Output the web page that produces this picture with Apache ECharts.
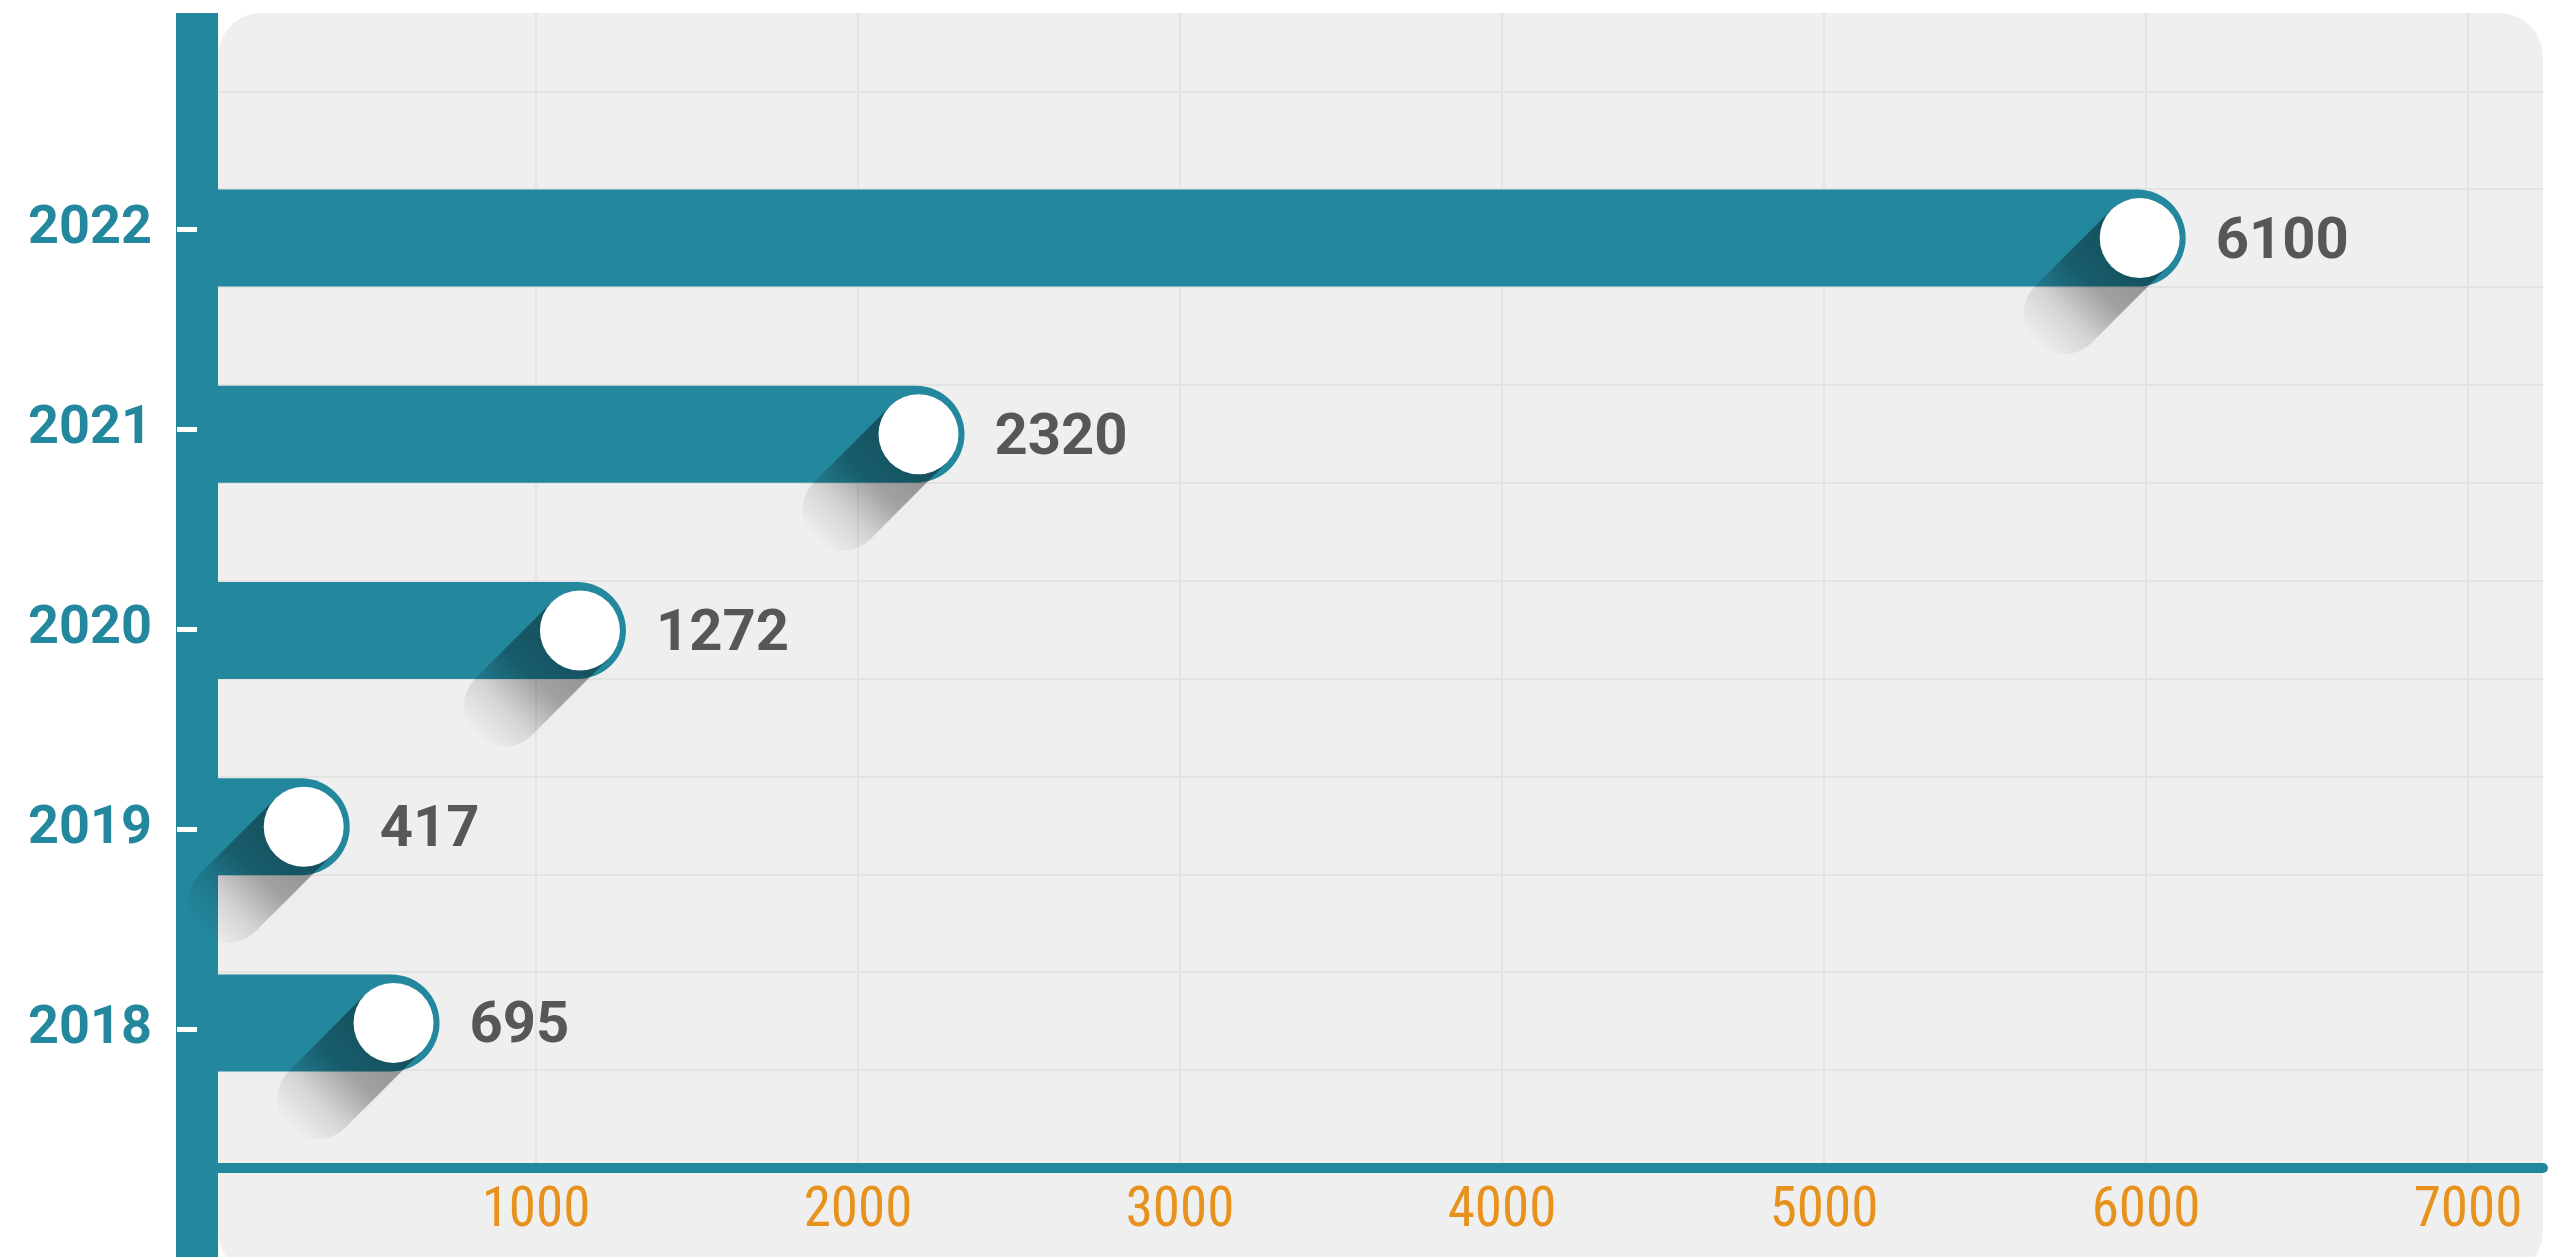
<!DOCTYPE html>
<html>
<head>
<meta charset="utf-8">
<script src="https://cdn.jsdelivr.net/npm/echarts@6/dist/echarts.min.js"></script>
<style>
html,body{margin:0;padding:0;background:#fff;}
#c{width:2567px;height:1257px;}
</style>
</head>
<body>
<div id="c"></div>
<script>
// ---- data ----
const categories = ['2018', '2019', '2020', '2021', '2022'];
const values = [695, 417, 1272, 2320, 6100];
const xMin = 0;
const xMax = 7233;      // gridline / label axis extent
const barXMax = 7206;   // bar axis extent
const xInterval = 1000;

// ---- styles ----
const TEAL = '#23889e';
const ORANGE = '#e8921e';
const GRID_LINE = '#e3e3e3';

function clipLeft(pts, xm) {
  const out = [];
  for (let i = 0; i < pts.length; i++) {
    const a = pts[i], b = pts[(i + 1) % pts.length];
    const ain = a[0] >= xm, bin = b[0] >= xm;
    if (ain) out.push(a);
    if (ain !== bin) {
      const t = (xm - a[0]) / (b[0] - a[0]);
      out.push([xm, a[1] + t * (b[1] - a[1])]);
    }
  }
  return out;
}

function renderShadow(params, api) {
  const v = api.value(0), c = api.value(1);
  const p = api.coord([v, c]);
  const R = 40, OFF = 46, L = 108;
  const cx = p[0] - OFF, cy = p[1];
  const s = Math.SQRT1_2;
  const dx = -s, dy = s;
  const ex = cx + L * dx, ey = cy + L * dy;
  let poly = [[cx + s * R, cy + s * R]];
  for (let a = 45; a <= 225; a += 10) {
    const r = a * Math.PI / 180;
    poly.push([ex + R * Math.cos(r), ey + R * Math.sin(r)]);
  }
  poly.push([cx - s * R, cy - s * R]);
  poly = clipLeft(poly, params.coordSys.x - 39);
  const T = L + R;
  const grad = {
    type: 'linear', global: true,
    x: cx, y: cy, x2: cx + T * dx, y2: cy + T * dy,
    colorStops: [
      { offset: 0, color: 'rgba(0,0,0,0.42)' },
      { offset: 0.45, color: 'rgba(0,0,0,0.31)' },
      { offset: 0.72, color: 'rgba(0,0,0,0.11)' },
      { offset: 1, color: 'rgba(0,0,0,0)' }
    ]
  };
  return {
    type: 'group',
    children: [
      { type: 'polygon', shape: { points: poly },
        style: { fill: grad, shadowBlur: 16, shadowColor: 'rgba(0,0,0,0.07)' } },
      { type: 'circle', shape: { cx: cx, cy: cy, r: R }, style: { fill: '#ffffff' } }
    ]
  };
}

const chart = echarts.init(document.getElementById('c'));
chart.setOption({
  backgroundColor: '#ffffff',
  animation: false,
  graphic: [
    { type: 'rect', z: -1, silent: true, shape: { x: 218, y: 13, width: 2325, height: 1262, r: 44 }, style: { fill: '#efefef' } },
    { type: 'rect', z: 1, silent: true, shape: { x: 176, y: 13, width: 42, height: 1250 }, style: { fill: TEAL } }
  ],
  grid: [
    { left: 214, right: 24, top: 13, bottom: 89 },
    { left: 215, right: 24, top: 140, bottom: 136 },
    { left: 197, right: 24, top: 129, bottom: 128 }
  ],
  xAxis: [
    {
      gridIndex: 0, type: 'value', min: xMin, max: xMax, interval: xInterval,
      axisLine: { show: true, onZero: false, lineStyle: { color: TEAL, width: 10 } },
      axisTick: { show: false },
      axisLabel: {
        showMinLabel: false, showMaxLabel: false, color: ORANGE, fontSize: 55,
        fontFamily: '"Liberation Sans Narrow", "Roboto Condensed", Roboto, sans-serif', margin: 17,
        formatter: function (v) { return String(v); }
      },
      splitLine: { show: true, showMinLine: false, showMaxLine: false, lineStyle: { color: GRID_LINE, width: 2 } }
    },
    { gridIndex: 1, type: 'value', min: xMin, max: barXMax, show: false },
    { gridIndex: 2, type: 'value', min: 0, max: 1, show: false }
  ],
  yAxis: [
    {
      gridIndex: 0, type: 'value', min: 0, max: 11.8, interval: 1,
      axisLine: { show: false }, axisTick: { show: false }, axisLabel: { show: false },
      splitLine: { show: true, showMaxLine: false, lineStyle: { color: GRID_LINE, width: 2 } }
    },
    { gridIndex: 1, type: 'category', data: categories, show: false },
    {
      gridIndex: 2, type: 'category', data: categories, z: 5,
      axisLine: { show: false },
      axisTick: { show: true, alignWithLabel: true, length: 20, lineStyle: { color: '#ffffff', width: 5 } },
      axisLabel: { color: TEAL, fontSize: 54, fontWeight: 'bold', fontFamily: 'Roboto', margin: 45 },
      splitLine: { show: false }
    }
  ],
  series: [
    {
      type: 'bar', xAxisIndex: 1, yAxisIndex: 1, data: values, barWidth: 97, z: 2,
      itemStyle: { color: TEAL, borderRadius: [0, 48.5, 48.5, 0] },
      label: {
        show: true, position: 'right', distance: 30, offset: [0, 5],
        color: '#575757', fontSize: 58, fontWeight: 'bold', fontFamily: 'Roboto'
      }
    },
    {
      type: 'custom', xAxisIndex: 1, yAxisIndex: 1, z: 3, clip: false,
      data: values.map((v, i) => [v, i]),
      encode: { x: 0, y: 1 },
      renderItem: renderShadow
    }
  ]
});
</script>
</body>
</html>
